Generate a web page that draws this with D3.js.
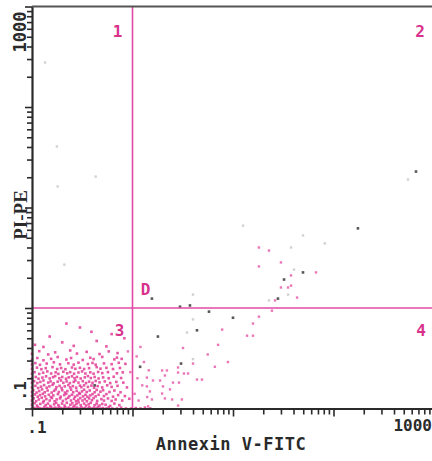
<!DOCTYPE html>
<html>
<head>
<meta charset="utf-8">
<script src="https://cdn.jsdelivr.net/npm/d3@7"></script>
<style>
  html, body { margin: 0; padding: 0; background: #fff; overflow: hidden; }
  text { font-family: "DejaVu Sans Mono", monospace; font-weight: bold; }
</style>
</head>
<body>
<svg id="plot" width="432" height="461"></svg>
<script>
// Annexin V-FITC (x) versus PI-PE (y), log fluorescence, one event per pair.
const axisDomain = [0.1, 1000];
const xTickLabels = [".1", "1000"];
const yTickLabels = [".1", "1000"];
const xTitle = "Annexin V-FITC";
const yTitle = "PI-PE";
const gateValue = 1;          // quadrant marker position on both axes
const quadrantNames = ["1", "2", "3", "4"];
const regionName = "D";

// Viable population: low annexin, low PI
const viableEvents = [
  [0.1,0.1],[0.103,0.102],[0.108,0.1],[0.114,0.103],[0.119,0.101],[0.127,0.1],[0.133,0.104],[0.141,0.101],[0.146,0.1],[0.155,0.103],[0.161,0.1],[0.17,0.102],[0.178,0.1],[0.186,0.104],[0.195,0.101],[0.207,0.1],[0.214,0.103],[0.226,0.1],[0.233,0.102],[0.247,0.1],[0.258,0.104],[0.271,0.1],[0.28,0.102],[0.296,0.1],[0.31,0.103],[0.325,0.1],[0.338,0.101],[0.36,0.1],[0.372,0.103],[0.39,0.1],[0.412,0.102],[0.436,0.1],[0.452,0.104],[0.48,0.1],[0.51,0.101],[0.55,0.1],[0.58,0.103],[0.63,0.1],[0.7,0.1],[0.77,0.102],[0.86,0.1],[0.97,0.1],[1.08,0.101],[1.2,0.1],[1.33,0.102],[1.5,0.1],
  [0.1,0.109],[0.106,0.113],[0.112,0.107],[0.121,0.111],[0.129,0.115],[0.137,0.108],[0.144,0.112],[0.152,0.106],[0.166,0.11],[0.174,0.114],[0.183,0.108],[0.199,0.112],[0.211,0.107],[0.222,0.114],[0.241,0.109],[0.252,0.113],[0.265,0.107],[0.277,0.111],[0.291,0.115],[0.305,0.108],[0.33,0.112],[0.345,0.107],[0.366,0.11],[0.384,0.114],[0.42,0.108],[0.44,0.112],[0.47,0.107],[0.5,0.111],[0.54,0.109],[0.6,0.106],[0.66,0.112],[0.74,0.108],
  [0.1,0.12],[0.104,0.126],[0.11,0.118],[0.117,0.123],[0.125,0.128],[0.131,0.119],[0.139,0.124],[0.15,0.12],[0.158,0.127],[0.168,0.118],[0.176,0.123],[0.19,0.126],[0.203,0.119],[0.218,0.124],[0.229,0.128],[0.244,0.12],[0.262,0.125],[0.274,0.118],[0.288,0.122],[0.302,0.127],[0.318,0.12],[0.336,0.124],[0.352,0.118],[0.37,0.126],[0.395,0.121],[0.41,0.127],[0.445,0.119],[0.49,0.124],[0.52,0.12],[0.57,0.126],[0.62,0.119],[0.68,0.123],[0.79,0.12],[0.93,0.125],
  [0.1,0.133],[0.107,0.138],[0.114,0.131],[0.12,0.136],[0.128,0.14],[0.135,0.132],[0.147,0.137],[0.154,0.13],[0.163,0.135],[0.181,0.139],[0.193,0.131],[0.209,0.136],[0.219,0.14],[0.236,0.133],[0.25,0.137],[0.268,0.131],[0.283,0.135],[0.3,0.14],[0.322,0.132],[0.34,0.137],[0.356,0.131],[0.38,0.135],[0.4,0.139],[0.43,0.132],[0.46,0.137],[0.52,0.133],[0.55,0.139],[0.64,0.131],[0.72,0.136],[0.84,0.133],
  [0.1,0.146],[0.103,0.152],[0.111,0.144],[0.118,0.149],[0.126,0.155],[0.134,0.145],[0.143,0.151],[0.157,0.144],[0.166,0.15],[0.172,0.155],[0.185,0.146],[0.2,0.152],[0.213,0.144],[0.225,0.149],[0.245,0.154],[0.257,0.145],[0.278,0.15],[0.294,0.143],[0.315,0.148],[0.33,0.154],[0.35,0.146],[0.375,0.151],[0.42,0.145],[0.44,0.153],[0.48,0.147],[0.51,0.152],[0.59,0.146],[0.66,0.151],[0.76,0.145],
  [0.1,0.162],[0.108,0.168],[0.115,0.16],[0.123,0.165],[0.132,0.171],[0.14,0.161],[0.149,0.166],[0.16,0.172],[0.175,0.163],[0.188,0.168],[0.197,0.16],[0.212,0.166],[0.23,0.171],[0.24,0.162],[0.255,0.167],[0.275,0.161],[0.3,0.169],[0.31,0.163],[0.33,0.17],[0.36,0.164],[0.39,0.169],[0.415,0.161],[0.45,0.167],[0.5,0.162],[0.56,0.17],[0.62,0.164],[0.71,0.168],[0.88,0.162],
  [0.1,0.18],[0.105,0.187],[0.113,0.179],[0.121,0.184],[0.13,0.19],[0.145,0.181],[0.153,0.186],[0.164,0.178],[0.18,0.185],[0.194,0.19],[0.205,0.18],[0.221,0.186],[0.238,0.179],[0.26,0.184],[0.27,0.19],[0.29,0.181],[0.32,0.187],[0.345,0.179],[0.37,0.185],[0.4,0.18],[0.43,0.188],[0.47,0.182],[0.53,0.186],[0.6,0.179],[0.69,0.184],[0.81,0.181],
  [0.1,0.2],[0.109,0.206],[0.116,0.198],[0.127,0.203],[0.138,0.209],[0.15,0.199],[0.162,0.205],[0.17,0.21],[0.187,0.2],[0.2,0.206],[0.218,0.198],[0.232,0.204],[0.25,0.209],[0.265,0.2],[0.28,0.206],[0.305,0.199],[0.335,0.204],[0.36,0.21],[0.385,0.201],[0.42,0.206],[0.46,0.199],[0.51,0.204],[0.58,0.2],[0.65,0.207],[0.77,0.201],
  [0.1,0.222],[0.106,0.23],[0.118,0.221],[0.129,0.227],[0.142,0.234],[0.155,0.223],[0.172,0.229],[0.183,0.221],[0.205,0.232],[0.224,0.224],[0.24,0.23],[0.262,0.222],[0.29,0.228],[0.315,0.234],[0.34,0.223],[0.38,0.229],[0.41,0.222],[0.455,0.231],[0.5,0.225],[0.57,0.23],[0.7,0.224],[0.8,0.229],
  [0.1,0.248],[0.112,0.255],[0.124,0.246],[0.137,0.252],[0.16,0.258],[0.178,0.247],[0.195,0.253],[0.215,0.246],[0.25,0.256],[0.27,0.248],[0.3,0.254],[0.33,0.247],[0.37,0.252],[0.44,0.258],[0.48,0.249],[0.55,0.254],[0.64,0.247],[0.75,0.253],
  [0.1,0.274],[0.108,0.283],[0.12,0.272],[0.14,0.28],[0.165,0.288],[0.19,0.275],[0.23,0.282],[0.26,0.273],[0.29,0.286],[0.36,0.277],[0.4,0.284],[0.43,0.273],[0.52,0.281],[0.62,0.276],[0.73,0.285],[0.85,0.278],
  [0.1,0.305],[0.113,0.318],[0.13,0.302],[0.155,0.312],[0.18,0.325],[0.22,0.307],[0.245,0.318],[0.32,0.304],[0.38,0.32],[0.41,0.31],[0.5,0.326],[0.66,0.308],[0.7,0.321],[0.78,0.312],
  [0.1,0.35],[0.118,0.372],[0.145,0.345],[0.17,0.362],[0.24,0.378],[0.28,0.352],[0.35,0.366],[0.47,0.348],[0.58,0.37],[0.71,0.356],
  [0.107,0.43],[0.13,0.41],[0.2,0.455],[0.26,0.42],[0.44,0.47],[0.55,0.415],
  [0.15,0.52],[0.39,0.58],[0.3,0.64],[0.62,0.55],[0.83,0.5],[0.22,0.7]
];

// Early apoptotic / transitional events: annexin positive, rising PI
const apoptoticEvents = [
  [1.05,0.14],[1.12,0.2],[1.25,0.17],[1.1,0.33],[1.3,0.29],[1.45,0.24],[1.15,0.12],[1.4,0.13],[0.95,0.23],[0.9,0.37],[1.6,0.19],[1.2,0.41],
  [1.39,0.203],[1.39,0.166],[1.49,0.148],[1.56,0.123],[1.43,0.105],
  [1.88,0.19],[1.97,0.141],[2.01,0.166],[2.1,0.126],[2.1,0.213],[2.36,0.155],[2.48,0.123],[2.84,0.107],[3.1,0.123],[2.53,0.181],[2.9,0.181],
  [1.97,0.239],[2.2,0.239],[2.84,0.256],[2.84,0.228],[3.25,0.223],[3.57,0.223],[4.0,0.28],[4.38,0.194],[4.91,0.194],[6.6,0.26],[8.9,0.29],
  [3.18,0.4],[5.6,0.345],[7.1,0.43],[7.8,0.61],[13.8,0.53],[15.8,0.53],[15.8,0.7],[18.1,0.82],[24.4,0.94],
  [26.2,1.19],[43.4,1.27],[30.0,1.6],[35.3,1.6],[37.8,1.67],[37.8,2.11],[30.0,2.84],[18.1,2.59],[67.0,2.26],[22.8,3.73],[18.1,4.0]
];

// Events recorded in black on the dot plot
const darkEvents = [
  [1.56,1.24],[2.97,1.03],[3.73,1.06],[5.77,0.92],[10.0,0.8],[4.38,0.6],[1.79,0.52],[28.0,1.24],[32.2,1.92],[49.7,2.26],
  [175,6.2],[662,22.8],[3.04,0.28],[0.42,0.17],[1.19,0.26]
];

// Faint grey debris
const faintEvents = [
  [12.6,6.6],[82,4.4],[40.5,2.41],[35.3,1.36],[22.8,1.19],[4.0,0.77],[3.48,0.57],[4.0,1.36],[551,19],[37.8,4.0],[49.7,5.27],
  [0.135,277],[0.177,40.5],[0.43,20.3],[0.18,16.2],[0.21,2.7],[4.0,0.31]
];

const svg = d3.select("#plot");
const pink = "#e23c98";
const ink = "#2a2a2a";

const x = d3.scaleLog().domain(axisDomain).range([32, 434]);
const y = d3.scaleLog().domain(axisDomain).range([408.5, 6.5]);

const isDecade = v => Math.abs(Math.log10(v) - Math.round(Math.log10(v))) < 1e-9;

// Events
function drawEvents(data, fill, opacity, size) {
  svg.append("g").selectAll("rect").data(data).join("rect")
    .attr("x", d => x(d[0]) - size / 2)
    .attr("y", d => y(d[1]) - size / 2)
    .attr("width", size).attr("height", size)
    .attr("fill", fill).attr("opacity", opacity);
}
drawEvents(faintEvents, "#9a9a9a", 0.45, 2.4);
drawEvents(viableEvents, pink, 0.85, 2.6);
drawEvents(apoptoticEvents, pink, 0.7, 2.4);
drawEvents(darkEvents, "#3a3a3a", 0.85, 2.6);

// Quadrant markers
svg.append("line")
  .attr("x1", x(gateValue)).attr("x2", x(gateValue))
  .attr("y1", y(axisDomain[1])).attr("y2", y(axisDomain[0]))
  .attr("stroke", "#e14aa6").attr("stroke-width", 1.6);
svg.append("line")
  .attr("x1", x(axisDomain[0])).attr("x2", 432)
  .attr("y1", y(gateValue)).attr("y2", y(gateValue))
  .attr("stroke", "#e14aa6").attr("stroke-width", 1.6);

// Axes with long decade ticks and short minor ticks
const xAxis = d3.axisBottom(x).tickFormat("").tickSizeOuter(0)
  .tickValues(x.ticks());
const gx = svg.append("g").attr("transform", `translate(0,${y(axisDomain[0])})`).call(xAxis);
gx.selectAll(".tick line").attr("y2", d => isDecade(d) ? 8 : 6).attr("stroke", ink).attr("stroke-width", 1.6);
gx.select(".domain").attr("stroke", ink).attr("stroke-width", 2.2);

const yAxis = d3.axisLeft(y).tickFormat("").tickSizeOuter(0)
  .tickValues(y.ticks());
const gy = svg.append("g").attr("transform", `translate(${x(axisDomain[0])},0)`).call(yAxis);
gy.selectAll(".tick line").attr("x2", d => isDecade(d) ? -7 : -5).attr("stroke", ink).attr("stroke-width", 1.6);
gy.select(".domain").attr("stroke", ink).attr("stroke-width", 2.2);

// Top frame
svg.append("line")
  .attr("x1", x(axisDomain[0])).attr("x2", 432)
  .attr("y1", y(axisDomain[1])).attr("y2", y(axisDomain[1]))
  .attr("stroke", "#555").attr("stroke-width", 2.2);

// Tick labels at the axis ends
svg.append("text").attr("x", x(axisDomain[0]) + 5).attr("y", 433)
  .attr("text-anchor", "middle").attr("font-size", 16).attr("fill", ink)
  .text(xTickLabels[0]);
svg.append("text").attr("x", 432).attr("y", 431)
  .attr("text-anchor", "end").attr("font-size", 16).attr("fill", ink)
  .text(xTickLabels[1]);
svg.append("text")
  .attr("transform", `translate(26,${y(axisDomain[0]) - 8}) rotate(-90)`)
  .attr("text-anchor", "start").attr("font-size", 16).attr("fill", ink)
  .text(yTickLabels[0]);
svg.append("text")
  .attr("transform", `translate(26,${y(axisDomain[1]) + 5}) rotate(-90)`)
  .attr("text-anchor", "end").attr("font-size", 17).attr("fill", ink)
  .text(yTickLabels[1]);

// Axis titles
svg.append("text").attr("x", 231).attr("y", 450)
  .attr("text-anchor", "middle").attr("font-size", 17).attr("letter-spacing", 0.5)
  .attr("fill", ink).text(xTitle);
svg.append("text")
  .attr("transform", "translate(27,215) rotate(-90)")
  .attr("text-anchor", "middle").attr("font-size", 19)
  .style("font-family", "'Liberation Serif', serif")
  .attr("fill", ink).text(yTitle);

// Quadrant numbers and region marker
const qColor = "#d8328c";
const qPos = [
  [x(gateValue) - 15, y(axisDomain[1]) + 30],
  [420, y(axisDomain[1]) + 30],
  [x(gateValue) - 13, y(gateValue) + 28],
  [421, y(gateValue) + 28]
];
quadrantNames.forEach((t, i) => {
  svg.append("text").attr("x", qPos[i][0]).attr("y", qPos[i][1])
    .attr("text-anchor", "middle").attr("font-size", 16).attr("fill", qColor).text(t);
});
svg.append("text").attr("x", x(gateValue) + 13).attr("y", y(gateValue) - 13)
  .attr("text-anchor", "middle").attr("font-size", 16).attr("fill", qColor).text(regionName);
</script>
</body>
</html>
